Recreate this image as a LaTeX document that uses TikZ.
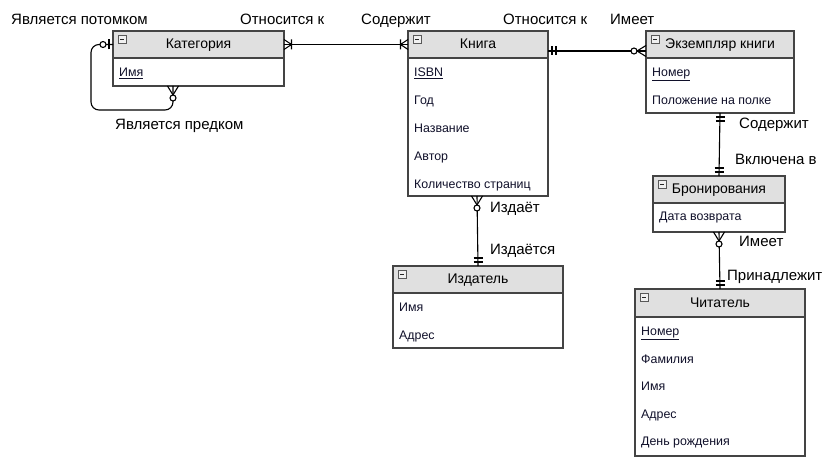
\documentclass[tikz,border=0pt]{standalone}
\usepackage{fontspec}
\setmainfont{Liberation Sans}
\usetikzlibrary{calc}
\definecolor{hdrfill}{HTML}{E0E0E0}
\definecolor{bord}{HTML}{444444}
\definecolor{attrcol}{HTML}{10102A}
\tikzset{
  hdr/.style={draw=bord, fill=hdrfill, line width=1.2pt, inner sep=0pt, outer sep=0pt,
    minimum height=27pt, anchor=north west, text height=10pt, text depth=2pt,
    font=\fontsize{14}{16}\selectfont},
  bodyb/.style={draw=bord, fill=white, line width=1.2pt, inner sep=0pt, outer sep=0pt, anchor=north west},
  attr/.style={anchor=base west, inner sep=0pt, text=attrcol, font=\fontsize{12.4}{14}\selectfont},
  lbl/.style={anchor=base west, inner sep=0pt, font=\fontsize{15}{17}\selectfont},
  conn/.style={line width=1.1pt, black},
  pics/minusicon/.style={code={
    \draw[draw=gray!70!black, line width=0.6pt, fill=gray!12] (0,0) rectangle (8,8);
    \draw[line width=0.9pt, gray!30!black] (2,4) -- (6,4);}},
  pics/onlyone/.style={code={\draw[conn] (4,-4.5) -- (4,4.5) (8,-4.5) -- (8,4.5);}},
  pics/oneormany/.style={code={\draw[conn] (0,-5) -- (7.5,0) -- (0,5) (7.5,-5) -- (7.5,5);}},
  pics/zeromany/.style={code={\draw[conn] (0,-5.5) -- (9,0) -- (0,5.5);
    \draw[conn, fill=white] (12,0) circle[radius=3pt];}},
  pics/zeroone/.style={code={\draw[conn] (4,-5) -- (4,5);
    \draw[conn, fill=white] (10,0) circle[radius=3pt];}},
}
\begin{document}
\begin{tikzpicture}[x=1pt, y=-1pt]
\fill[white] (0,0) rectangle (827,465);
\useasboundingbox (0,0) rectangle (827,465);

% ---------- Категория ----------
\node[hdr, minimum width=171pt] (kat) at (113,31) {Категория};
\node[bodyb, minimum width=171pt, minimum height=28pt] (katb) at (kat.south west) {};
\pic at ([shift={(5,4)}]kat.north west) {minusicon};
\node[attr] (katA1) at (119,76.5) {\underline{Имя}};

% ---------- Книга ----------
\node[hdr, minimum width=140pt] (kn) at (408,31) {Книга};
\node[bodyb, minimum width=140pt, minimum height=138pt] (knb) at (kn.south west) {};
\pic at ([shift={(5,4)}]kn.north west) {minusicon};
\node[attr] (knA1) at (414,76.5) {\underline{ISBN}};
\node[attr] (knA2) at (414,104.5) {Год};
\node[attr] (knA3) at (414,132.5) {Название};
\node[attr] (knA4) at (414,160.5) {Автор};
\node[attr] (knA5) at (414,188.5) {Количество страниц};

% ---------- Экземпляр книги ----------
\node[hdr, minimum width=148pt] (ekz) at (646,31) {Экземпляр книги};
\node[bodyb, minimum width=148pt, minimum height=55pt] (ekzb) at (ekz.south west) {};
\pic at ([shift={(5,4)}]ekz.north west) {minusicon};
\node[attr] (ekzA1) at (652,76.5) {\underline{Номер}};
\node[attr] (ekzA2) at (652,104.5) {Положение на полке};

% ---------- Бронирования ----------
\node[hdr, minimum width=132pt] (bron) at (653,176) {Бронирования};
\node[bodyb, minimum width=132pt, minimum height=29pt] (bronb) at (bron.south west) {};
\pic at ([shift={(5,4)}]bron.north west) {minusicon};
\node[attr] (bronA1) at (659,221) {Дата возврата};

% ---------- Издатель ----------
\node[hdr, minimum width=170pt] (izd) at (393,266) {Издатель};
\node[bodyb, minimum width=170pt, minimum height=55pt] (izdb) at (izd.south west) {};
\pic at ([shift={(5,4)}]izd.north west) {minusicon};
\node[attr] (izdA1) at (399,311.5) {Имя};
\node[attr] (izdA2) at (399,339.5) {Адрес};

% ---------- Читатель ----------
\node[hdr, minimum width=170pt, minimum height=28pt] (chit) at (635,289) {Читатель};
\node[bodyb, minimum width=170pt, minimum height=139pt] (chitb) at (chit.south west) {};
\pic at ([shift={(5,4)}]chit.north west) {minusicon};
\node[attr] (chA1) at (641,335.5) {\underline{Номер}};
\node[attr] (chA2) at (641,363) {Фамилия};
\node[attr] (chA3) at (641,390.5) {Имя};
\node[attr] (chA4) at (641,418) {Адрес};
\node[attr] (chA5) at (641,445.5) {День рождения};

% ---------- connectors ----------
% Категория -- Книга
\draw[conn] (kat.east) -- (kn.west);
\pic at (kat.east) {oneormany};
\pic[rotate=180] at (kn.west) {oneormany};

% Книга -- Экземпляр книги
\draw[conn] ([yshift=-6.5pt]kn.east) -- ([yshift=-6.5pt]ekz.west);
\pic at ([yshift=-6.5pt]kn.east) {onlyone};
\pic[rotate=180] at ([yshift=-6.5pt]ekz.west) {zeromany};

% Экземпляр книги -- Бронирования
\draw[conn] (ekzb.south) -- (bron.north);
\pic[rotate=-90] at (ekzb.south) {onlyone};
\pic[rotate=90] at (bron.north) {onlyone};

% Книга -- Издатель
\draw[conn] ([xshift=-1pt]knb.south) -- (izd.north);
\pic[rotate=-90] at ([xshift=-1pt]knb.south) {zeromany};
\pic[rotate=90] at (izd.north) {onlyone};

% Бронирования -- Читатель
\draw[conn] (bronb.south) -- (chit.north);
\pic[rotate=-90] at (bronb.south) {zeromany};
\pic[rotate=90] at (chit.north) {onlyone};

% Категория self relation
\coordinate (loopA) at (91,110);
\coordinate (loopB) at ([xshift=-25.5pt]katb.south);
\draw[conn, rounded corners=8pt] (kat.west) -| (loopA) -| (loopB);
\pic[rotate=180] at (kat.west) {zeroone};
\pic[rotate=-90] at (loopB) {zeromany};

% ---------- labels ----------
\node[lbl] (l1) at (11,25) {Является потомком};
\node[lbl] (l2) at (115,130) {Является предком};
\node[lbl] (l3) at (240,25) {Относится к};
\node[lbl] (l4) at (361,25) {Содержит};
\node[lbl] (l5) at (503,25) {Относится к};
\node[lbl] (l6) at (610,25) {Имеет};
\node[lbl] (l7) at (739,129) {Содержит};
\node[lbl] (l8) at (735,165) {Включена в};
\node[lbl] (l9) at (490,212) {Издаёт};
\node[lbl] (l10) at (490,254) {Издаётся};
\node[lbl] (l11) at (739,247) {Имеет};
\node[lbl] (l12) at (727,280) {Принадлежит};
\end{tikzpicture}
\end{document}
